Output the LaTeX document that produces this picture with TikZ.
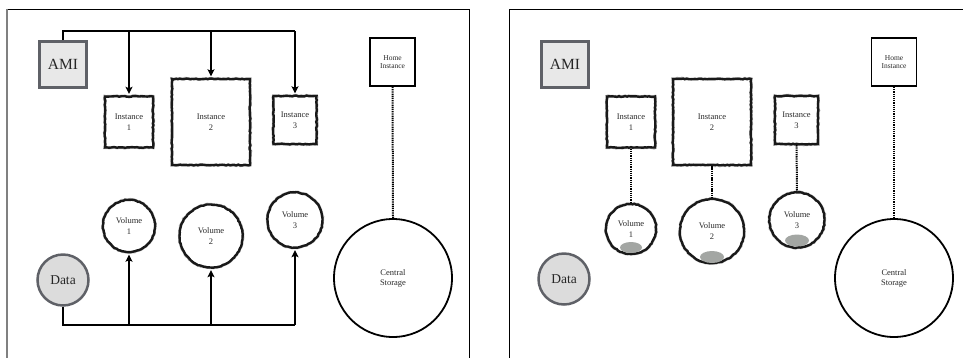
\documentclass[tikz,border=0pt]{standalone}
\usepackage{fontspec}
\setmainfont{Liberation Serif}
\usetikzlibrary{arrows.meta,decorations.pathmorphing,calc}
\definecolor{amifill}{HTML}{E8E8E8}
\definecolor{amiedge}{HTML}{5F6167}
\definecolor{datafill}{HTML}{DCDCDC}
\definecolor{frameg}{HTML}{808080}
\definecolor{blob}{HTML}{A3A6A3}
\definecolor{txt}{HTML}{2A2A2A}
\tikzset{
  amibox/.style={rectangle, draw=amiedge, line width=3pt, fill=amifill, inner sep=0pt,
    minimum width=47pt, minimum height=46pt, text=black!85, font=\fontsize{15.5}{18}\selectfont},
  homebox/.style={rectangle, draw=black, line width=1.8pt, fill=white, inner sep=0pt,
    minimum width=45pt, minimum height=48pt, align=center, text=txt,
    font=\fontsize{7.5}{8.5}\selectfont},
  roughbox/.style={rectangle, draw=black!90, line width=2.4pt, fill=white, inner sep=0pt,
    align=center, text=txt, font=\fontsize{8.5}{11}\selectfont,
    decorate, decoration={random steps, segment length=2pt, amplitude=0.4pt},
    preaction={draw=gray!55, line width=3.3pt, decorate,
      decoration={random steps, segment length=1.5pt, amplitude=0.5pt}}},
  roughcirc/.style={circle, draw=black!90, line width=2.4pt, fill=white, inner sep=0pt,
    align=center, text=txt, font=\fontsize{8.5}{10.5}\selectfont,
    decorate, decoration={random steps, segment length=2pt, amplitude=0.4pt},
    preaction={draw=gray!55, line width=3.2pt, decorate,
      decoration={random steps, segment length=1.5pt, amplitude=0.5pt}}},
  datacirc/.style={circle, draw=amiedge, line width=2.5pt, fill=datafill, inner sep=0pt,
    minimum size=51pt, text=black!85, font=\fontsize{13.5}{15}\selectfont},
  storecirc/.style={circle, draw=black, line width=1.8pt, fill=white, inner sep=0pt,
    minimum size=118pt, align=center, text=txt, font=\fontsize{8.5}{10}\selectfont},
  wire/.style={draw=black, line width=2pt},
  arrowwire/.style={draw=black, line width=2pt, shorten >=1.5pt,
    -{Stealth[length=7pt, width=7pt, inset=1.5pt]}},
  dots/.style={draw=black, line width=2pt, dash pattern=on 1.3pt off 0.9pt},
  blobfill/.style={fill=blob},
  frameblack/.style={draw=black, line width=1pt},
  framegray/.style={draw=frameg, line width=2.2pt}
}
\begin{document}
\begin{tikzpicture}[x=1pt,y=-1pt]
\pgfmathsetseed{7}
\useasboundingbox (0,0) rectangle (963,357);
% frames
\draw[frameblack] (7,9) -- (469,9) -- (469,362);
\draw[framegray] (7,8.5) -- (7,362);
\draw[frameblack] (509,362) -- (509,9) -- (970,9);

% ---------------- left panel ----------------
\node[amibox] (amiL) at (63,64.5) {AMI};
\node[homebox] (homeL) at (392.5,62) {Home\\Instance};
\node[roughbox, minimum width=48pt, minimum height=51pt] (i1L) at (129,122) {Instance\\1};
\node[roughbox, minimum width=78pt, minimum height=86pt] (i2L) at (211,122) {Instance\\2};
\node[roughbox, minimum width=43pt, minimum height=48pt] (i3L) at (295,120) {Instance\\3};
\node[roughcirc, minimum size=52pt] (v1L) at (129,226) {Volume\\1};
\node[roughcirc, minimum size=63pt] (v2L) at (211,236) {Volume\\2};
\node[roughcirc, minimum size=55pt] (v3L) at (295,220) {Volume\\3};
\node[datacirc] (dataL) at (63,280) {Data};
\node[storecirc] (csL) at (393,278) {Central\\Storage};

\coordinate (topL) at (63,31);
\draw[wire] (amiL.north) -- (amiL.north |- topL) -- (i3L.north |- topL);
\draw[arrowwire] (i1L.north |- topL) -- (i1L.north);
\draw[arrowwire] (i2L.north |- topL) -- (i2L.north);
\draw[arrowwire] (i3L.north |- topL) -- (i3L.north);

\coordinate (botL) at (63,325);
\draw[wire] (dataL.south) -- (dataL.south |- botL) -- (v3L.south |- botL);
\draw[arrowwire] (v1L.south |- botL) -- (v1L.south);
\draw[arrowwire] (v2L.south |- botL) -- (v2L.south);
\draw[arrowwire] (v3L.south |- botL) -- (v3L.south);

\draw[dots] (homeL.south) -- (csL.north);

% ---------------- right panel ----------------
\node[amibox] (amiR) at (565,64.5) {AMI};
\node[homebox] (homeR) at (894,62) {Home\\Instance};
\node[roughbox, minimum width=48pt, minimum height=51pt] (i1R) at (631,122) {Instance\\1};
\node[roughbox, minimum width=78pt, minimum height=86pt] (i2R) at (712,122) {Instance\\2};
\node[roughbox, minimum width=43pt, minimum height=48pt] (i3R) at (796.5,120) {Instance\\3};
\node[roughcirc, minimum size=50pt] (v1R) at (631,229) {Volume\\1};
\node[roughcirc, minimum size=64pt] (v2R) at (712,231) {Volume\\2};
\node[roughcirc, minimum size=55pt] (v3R) at (797,220) {Volume\\3};
\node[datacirc] (dataR) at (564,279) {Data};
\node[storecirc] (csR) at (894,278) {Central\\Storage};

\fill[blobfill] (631,247.5) ellipse [x radius=11pt, y radius=5.5pt];
\fill[blobfill] (712,257) ellipse [x radius=12pt, y radius=6pt];
\fill[blobfill] (797,240.5) ellipse [x radius=12pt, y radius=6pt];

\draw[dots] (i1R.south) -- (v1R.north);
\draw[dots] (i2R.south) -- (v2R.north);
\draw[dots] (i3R.south) -- (v3R.north);
\draw[dots] (homeR.south) -- (csR.north);
\end{tikzpicture}
\end{document}
